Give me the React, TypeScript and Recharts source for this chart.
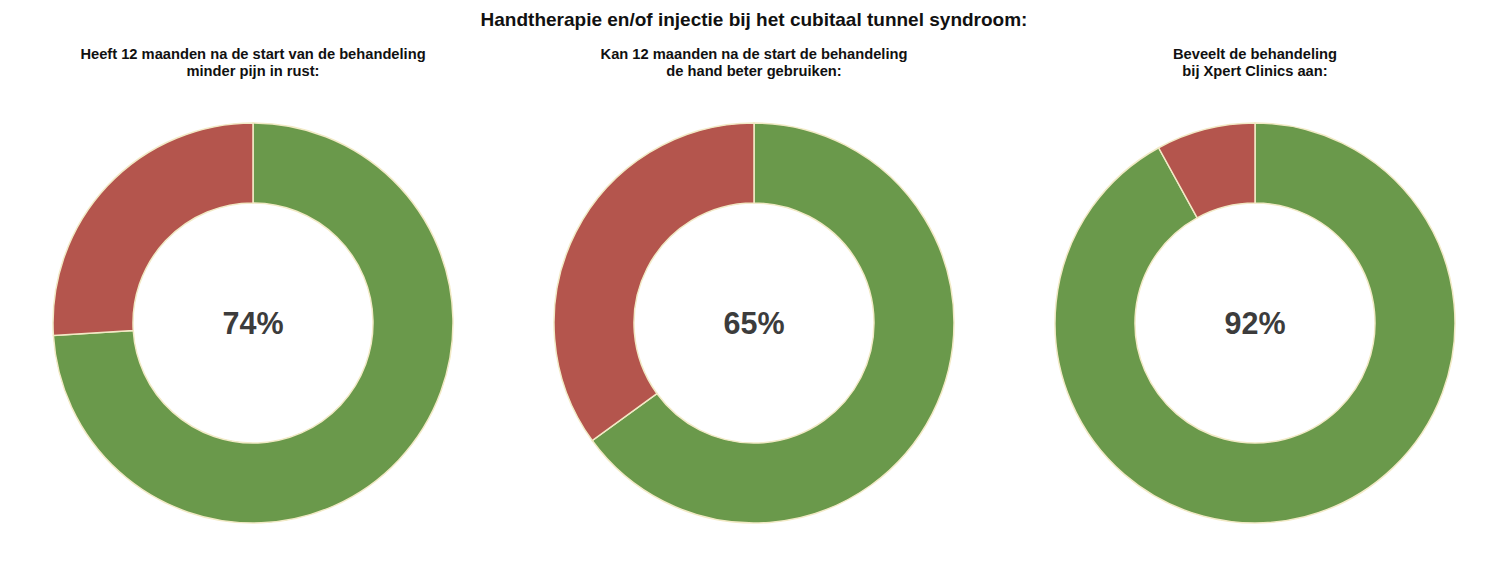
import React from "react";
import { PieChart, Pie, Cell } from "recharts";

const chartTitle = "Handtherapie en/of injectie bij het cubitaal tunnel syndroom:";
const subtitles = [
  ["Heeft 12 maanden na de start van de behandeling", "minder pijn in rust:"],
  ["Kan 12 maanden na de start de behandeling", "de hand beter gebruiken:"],
  ["Beveelt de behandeling", "bij Xpert Clinics aan:"],
];
const yesValues = [74, 65, 92];
const noValues = [26, 35, 8];
const colors = ["#6a994b", "#b4554d"];

const centersX = [253, 754, 1255];
const centerY = 323;
const font = "'Liberation Sans', Arial, Helvetica, sans-serif";

export default function App() {
  return (
    <div style={{ position: "absolute", left: 0, top: 0, width: 1508, height: 587, background: "#fff", fontFamily: font }}>
      <PieChart width={1508} height={587} margin={{ top: 0, right: 0, bottom: 0, left: 0 }}>
        {yesValues.map((v, i) => (
          <Pie
            key={i}
            data={[
              { name: "ja", value: v },
              { name: "nee", value: noValues[i] },
            ]}
            dataKey="value"
            cx={centersX[i]}
            cy={centerY}
            innerRadius={120}
            outerRadius={200}
            startAngle={90}
            endAngle={-270}
            stroke="#f2eac6"
            strokeWidth={1.5}
            isAnimationActive={false}
          >
            <Cell fill={colors[0]} />
            <Cell fill={colors[1]} />
          </Pie>
        ))}
      </PieChart>
      <div style={{ position: "absolute", left: 0, width: 1508, top: 9, textAlign: "center", fontSize: 19, fontWeight: "bold", color: "#111", lineHeight: "22px" }}>
        {chartTitle}
      </div>
      {subtitles.map((s, i) => (
        <div key={i} style={{ position: "absolute", left: centersX[i] - 250, width: 500, top: 46, textAlign: "center", fontSize: 14.7, fontWeight: "bold", color: "#111", lineHeight: "17px" }}>
          <div>{s[0]}</div>
          <div>{s[1]}</div>
        </div>
      ))}
      {yesValues.map((v, i) => (
        <div key={i} style={{ position: "absolute", left: centersX[i] - 100, width: 200, top: centerY - 19, textAlign: "center", fontSize: 30.5, fontWeight: "bold", color: "#3c3c3c", lineHeight: "38px" }}>
          {v}%
        </div>
      ))}
    </div>
  );
}
